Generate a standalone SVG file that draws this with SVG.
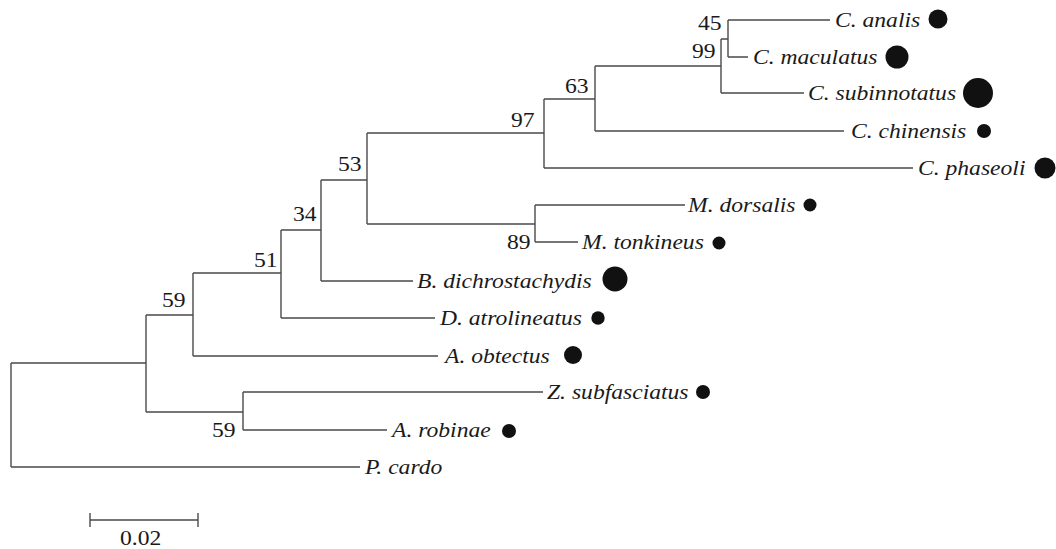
<svg xmlns="http://www.w3.org/2000/svg" width="1056" height="549" viewBox="0 0 1056 549">
<style>
.br{fill:none;stroke:#4a4a4a;stroke-width:1.4}
.dot{fill:#111}
</style>
<rect width="1056" height="549" fill="#fff"/>
<g id="connectors" class="br">
<path d="M11,363V467M11,363H146M11,467H360"/>
<path d="M146,315V412M146,315H193M146,412H243"/>
<path d="M193,273V356M193,356H438M193,273H281"/>
<path d="M281,230V318M281,318H435M281,230H321"/>
<path d="M321,180V281M321,281H413M321,180H367"/>
<path d="M367,133V224M367,224H535M367,133H544"/>
<path d="M535,205V242M535,205H685M535,242H578"/>
<path d="M544,99V168M544,168H913M544,99H595"/>
<path d="M595,66V131M595,131H844M595,66H721"/>
<path d="M721,39V93M721,93H804M721,39H728"/>
<path d="M728,20V57M728,20H830M728,57H748"/>
<path d="M243,392V430M243,392H543M243,430H387"/>
</g>
<g id="support">
<text font-family="Liberation Serif" font-size="20" fill="#1a1a1a" transform="translate(698,30) scale(1.18,1)">45</text>
<text font-family="Liberation Serif" font-size="20" fill="#1a1a1a" transform="translate(692,58) scale(1.18,1)">99</text>
<text font-family="Liberation Serif" font-size="20" fill="#1a1a1a" transform="translate(565,93) scale(1.18,1)">63</text>
<text font-family="Liberation Serif" font-size="20" fill="#1a1a1a" transform="translate(511,127) scale(1.18,1)">97</text>
<text font-family="Liberation Serif" font-size="20" fill="#1a1a1a" transform="translate(338,171) scale(1.18,1)">53</text>
<text font-family="Liberation Serif" font-size="20" fill="#1a1a1a" transform="translate(507,249) scale(1.18,1)">89</text>
<text font-family="Liberation Serif" font-size="20" fill="#1a1a1a" transform="translate(293,221) scale(1.18,1)">34</text>
<text font-family="Liberation Serif" font-size="20" fill="#1a1a1a" transform="translate(254,267) scale(1.18,1)">51</text>
<text font-family="Liberation Serif" font-size="20" fill="#1a1a1a" transform="translate(162,307) scale(1.18,1)">59</text>
<text font-family="Liberation Serif" font-size="20" fill="#1a1a1a" transform="translate(212,437) scale(1.18,1)">59</text>
</g>
<g id="n-analis"><text font-family="Liberation Serif" font-style="italic" font-size="20" fill="#1a1a1a" transform="translate(835,27) scale(1.18,1)">C. analis</text><circle class="dot" cx="938" cy="19" r="9.5"/></g>
<g id="n-maculatus"><text font-family="Liberation Serif" font-style="italic" font-size="20" fill="#1a1a1a" transform="translate(753,64) scale(1.18,1)">C. maculatus</text><circle class="dot" cx="897" cy="57" r="11.5"/></g>
<g id="n-subinnotatus"><text font-family="Liberation Serif" font-style="italic" font-size="20" fill="#1a1a1a" transform="translate(808,100) scale(1.18,1)">C. subinnotatus</text><circle class="dot" cx="978" cy="93" r="15"/></g>
<g id="n-chinensis"><text font-family="Liberation Serif" font-style="italic" font-size="20" fill="#1a1a1a" transform="translate(851,138) scale(1.18,1)">C. chinensis</text><circle class="dot" cx="984" cy="131" r="7"/></g>
<g id="n-phaseoli"><text font-family="Liberation Serif" font-style="italic" font-size="20" fill="#1a1a1a" transform="translate(918,175) scale(1.18,1)">C. phaseoli</text><circle class="dot" cx="1045" cy="168" r="10.5"/></g>
<g id="n-dorsalis"><text font-family="Liberation Serif" font-style="italic" font-size="20" fill="#1a1a1a" transform="translate(688,212) scale(1.18,1)">M. dorsalis</text><circle class="dot" cx="810" cy="205" r="6.5"/></g>
<g id="n-tonkineus"><text font-family="Liberation Serif" font-style="italic" font-size="20" fill="#1a1a1a" transform="translate(582,249) scale(1.18,1)">M. tonkineus</text><circle class="dot" cx="719" cy="243" r="6.5"/></g>
<g id="n-dichrostachydis"><text font-family="Liberation Serif" font-style="italic" font-size="20" fill="#1a1a1a" transform="translate(417,288) scale(1.18,1)">B. dichrostachydis</text><circle class="dot" cx="615" cy="279" r="12.5"/></g>
<g id="n-atrolineatus"><text font-family="Liberation Serif" font-style="italic" font-size="20" fill="#1a1a1a" transform="translate(440,325) scale(1.18,1)">D. atrolineatus</text><circle class="dot" cx="598" cy="318" r="6.7"/></g>
<g id="n-obtectus"><text font-family="Liberation Serif" font-style="italic" font-size="20" fill="#1a1a1a" transform="translate(445,363) scale(1.18,1)">A. obtectus</text><circle class="dot" cx="573" cy="355" r="9"/></g>
<g id="n-subfasciatus"><text font-family="Liberation Serif" font-style="italic" font-size="20" fill="#1a1a1a" transform="translate(547,399) scale(1.18,1)">Z. subfasciatus</text><circle class="dot" cx="703" cy="392" r="7"/></g>
<g id="n-robinae"><text font-family="Liberation Serif" font-style="italic" font-size="20" fill="#1a1a1a" transform="translate(392,437) scale(1.18,1)">A. robinae</text><circle class="dot" cx="509" cy="431" r="7"/></g>
<g id="n-cardo"><text font-family="Liberation Serif" font-style="italic" font-size="20" fill="#1a1a1a" transform="translate(365,474) scale(1.18,1)">P. cardo</text></g>
<g id="scalebar">
<path class="br" d="M90,520H198M90,513V527M198,513V527"/>
<text font-family="Liberation Serif" font-size="20" fill="#1a1a1a" transform="translate(120,545) scale(1.18,1)">0.02</text>
</g>
</svg>
